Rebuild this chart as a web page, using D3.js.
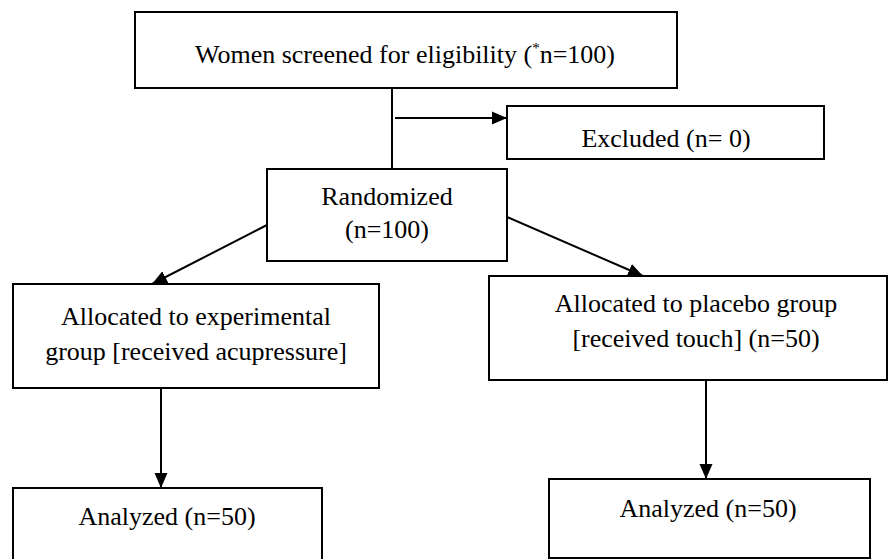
<!DOCTYPE html>
<html>
<head>
<meta charset="utf-8">
<script src="https://cdn.jsdelivr.net/npm/d3@7"></script>
<style>
  body { margin: 0; background: #fff; }
  svg text { font-family: "Liberation Serif", "Times New Roman", serif; font-size: 26px; fill: #000; }
</style>
</head>
<body>
<div class="flow"></div>
<script>
// stage labels and counts
var stageIds = ["screen", "excluded", "random", "expGroup", "plaGroup", "expAnalyzed", "plaAnalyzed"];
var stageLines = [
  ["Women screened for eligibility (*n=100)"],
  ["Excluded (n= 0)"],
  ["Randomized", "(n=100)"],
  ["Allocated to experimental", "group [received acupressure]"],
  ["Allocated to placebo group", "[received touch] (n=50)"],
  ["Analyzed (n=50)"],
  ["Analyzed (n=50)"]
];
var links = [
  ["screen", "random"],
  ["screen", "excluded"],
  ["random", "expGroup"],
  ["random", "plaGroup"],
  ["expGroup", "expAnalyzed"],
  ["plaGroup", "plaAnalyzed"]
];

var svgWidth = 890;
var svgHeight = 559;

// box placement (x, y, w, h) and where the text sits
var layout = {
  screen:      { x: 135, y: 12,  w: 542, h: 76,  tx: 405, ty: [63] },
  excluded:    { x: 507, y: 106, w: 317, h: 53,  tx: 666, ty: [147] },
  random:      { x: 267, y: 169, w: 240, h: 92,  tx: 387, ty: [205, 238] },
  expGroup:    { x: 13,  y: 284, w: 366, h: 104, tx: 196, ty: [325, 360] },
  plaGroup:    { x: 489, y: 276, w: 398, h: 104, tx: 696, ty: [312, 347] },
  expAnalyzed: { x: 13,  y: 488, w: 309, h: 90,  tx: 167, ty: [525] },
  plaAnalyzed: { x: 549, y: 479, w: 321, h: 79,  tx: 708, ty: [517] }
};

// connector end points
var linkPts = {
  "screen-random":        [[392, 88], [392, 169], false],
  "screen-excluded":      [[395, 118], [507, 118], true],
  "random-expGroup":      [[267, 225], [152, 284], true],
  "random-plaGroup":      [[507, 217], [643, 276], true],
  "expGroup-expAnalyzed": [[161, 388], [161, 488], true],
  "plaGroup-plaAnalyzed": [[706, 380], [706, 479], true]
};

var svg = d3.select(".flow")
  .append("svg")
  .attr("width", svgWidth)
  .attr("height", svgHeight);

svg.append("defs").append("marker")
  .attr("id", "arrow")
  .attr("markerUnits", "userSpaceOnUse")
  .attr("markerWidth", 16)
  .attr("markerHeight", 14)
  .attr("refX", 15)
  .attr("refY", 7)
  .attr("orient", "auto")
  .append("path")
  .attr("d", "M0,0.5 L15,7 L0,13.5 Z")
  .attr("fill", "#000");

var stages = stageIds.map(function(id, i) {
  return { id: id, lines: stageLines[i], box: layout[id] };
});

// links
svg.selectAll(".link")
  .data(links)
  .enter()
  .append("line")
  .attr("class", "link")
  .each(function(d) {
    var p = linkPts[d[0] + "-" + d[1]];
    d3.select(this)
      .attr("x1", p[0][0]).attr("y1", p[0][1])
      .attr("x2", p[1][0]).attr("y2", p[1][1])
      .attr("marker-end", p[2] ? "url(#arrow)" : null);
  })
  .attr("stroke", "#000")
  .attr("stroke-width", 2);

// boxes
var node = svg.selectAll(".node")
  .data(stages)
  .enter()
  .append("g")
  .attr("class", "node");

node.append("rect")
  .attr("x", function(d) { return d.box.x; })
  .attr("y", function(d) { return d.box.y; })
  .attr("width", function(d) { return d.box.w; })
  .attr("height", function(d) { return d.box.h; })
  .attr("fill", "#fff")
  .attr("stroke", "#000")
  .attr("stroke-width", 2);

node.each(function(d) {
  var g = d3.select(this);
  d.lines.forEach(function(line, i) {
    var t = g.append("text")
      .attr("x", d.box.tx)
      .attr("y", d.box.ty[i])
      .attr("text-anchor", "middle");
    var star = line.indexOf("*");
    if (star < 0) {
      t.text(line);
    } else {
      t.append("tspan").text(line.slice(0, star));
      t.append("tspan").attr("dy", -10).style("font-size", "15px").text("*");
      t.append("tspan").attr("dy", 10).text(line.slice(star + 1));
    }
  });
});
</script>
</body>
</html>
